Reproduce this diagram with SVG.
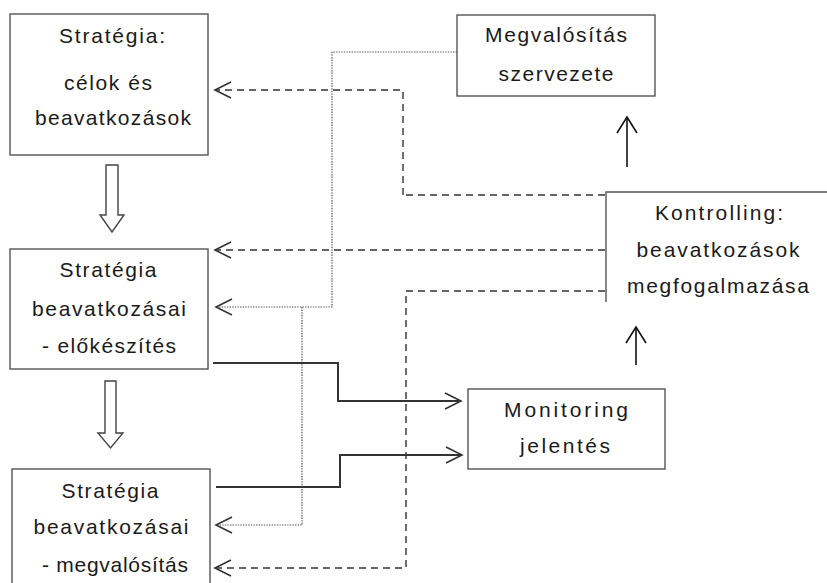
<svg xmlns="http://www.w3.org/2000/svg" width="827" height="583" viewBox="0 0 827 583">
<style>
.box{fill:#fff;stroke:#555;stroke-width:1.4}
.t{font-family:"Liberation Sans",Arial,sans-serif;font-size:21px;fill:#1a1a1a;text-anchor:middle}
.dash{fill:none;stroke:#333;stroke-width:1.4;stroke-dasharray:7 5}
.dot{fill:none;stroke:#555;stroke-width:1.2;stroke-dasharray:1.4 1.2}
.solid{fill:none;stroke:#333;stroke-width:2}
.up{fill:none;stroke:#111;stroke-width:1.6}
.blk{fill:#fff;stroke:#444;stroke-width:1.4}
</style>
<defs>
<marker id="ah" viewBox="-18 -10 20 20" refX="0" refY="0" markerWidth="20" markerHeight="20" markerUnits="userSpaceOnUse" orient="auto">
<path d="M -16 -8 L 0 0 L -16 8" fill="none" stroke="#333" stroke-width="1.6"/>
</marker>
<marker id="ahu" viewBox="-18 -11 20 22" refX="0" refY="0" markerWidth="20" markerHeight="22" markerUnits="userSpaceOnUse" orient="auto">
<path d="M -16 -10 L 0 0 L -16 10" fill="none" stroke="#111" stroke-width="1.6"/>
</marker>
</defs>

<g id="connectors">
<path class="dash" d="M 403 195 V 90 H 215" marker-end="url(#ah)"/>
<path class="dash" d="M 605 195 H 403"/>
<path class="dash" d="M 605 250 H 215" marker-end="url(#ah)"/>
<path class="dash" d="M 605 291 H 406 V 568 H 215" marker-end="url(#ah)"/>
<path class="dot" d="M 457 52 H 332 V 307 H 216" marker-end="url(#ah)"/>
<path class="dot" d="M 302 307 V 525 H 216" marker-end="url(#ah)"/>
<path class="solid" d="M 213 363 H 338 V 401 H 461" marker-end="url(#ah)"/>
<path class="solid" d="M 216 487 H 340 V 455 H 462" marker-end="url(#ah)"/>
<path class="up" d="M 627 167 V 117" marker-end="url(#ahu)"/>
<path class="up" d="M 636 365 V 327" marker-end="url(#ahu)"/>
<polygon class="blk" points="106,165 118,165 118,215 124,215 112,232 100,215 106,215"/>
<polygon class="blk" points="105,381 116,381 116,433 123,433 110.5,448 98,433 105,433"/>
</g>

<g id="strategia">
<rect class="box" x="10" y="14" width="198" height="141"/>
<text class="t" x="112" y="43" textLength="106" lengthAdjust="spacing">Stratégia:</text>
<text class="t" x="108" y="90" textLength="88" lengthAdjust="spacing">célok és</text>
<text class="t" x="113" y="125" textLength="156" lengthAdjust="spacing">beavatkozások</text>
</g>

<g id="megvalositas-szervezete">
<rect class="box" x="457" y="15" width="198" height="81"/>
<text class="t" x="556" y="42" textLength="142" lengthAdjust="spacing">Megvalósítás</text>
<text class="t" x="556" y="81" textLength="115" lengthAdjust="spacing">szervezete</text>
</g>

<g id="kontrolling">
<path d="M 606 302 V 192 H 830" fill="none" stroke="#555" stroke-width="1.4"/>
<text class="t" x="719" y="220" textLength="128" lengthAdjust="spacing">Kontrolling:</text>
<text class="t" x="718" y="257" textLength="163" lengthAdjust="spacing">beavatkozások</text>
<text class="t" x="718" y="293" textLength="182" lengthAdjust="spacing">megfogalmazása</text>
</g>

<g id="elokeszites">
<rect class="box" x="10" y="249" width="198" height="120"/>
<text class="t" x="108" y="277" textLength="97" lengthAdjust="spacing">Stratégia</text>
<text class="t" x="109" y="316" textLength="154" lengthAdjust="spacing">beavatkozásai</text>
<text class="t" x="109" y="353" textLength="134" lengthAdjust="spacing">- előkészítés</text>
</g>

<g id="monitoring">
<rect class="box" x="468" y="389" width="197" height="80"/>
<text class="t" x="566" y="417" textLength="124" lengthAdjust="spacing">Monitoring</text>
<text class="t" x="565" y="453" textLength="90" lengthAdjust="spacing">jelentés</text>
</g>

<g id="megvalositas">
<rect class="box" x="12" y="469" width="198" height="130"/>
<text class="t" x="110" y="498" textLength="97" lengthAdjust="spacing">Stratégia</text>
<text class="t" x="111" y="534" textLength="155" lengthAdjust="spacing">beavatkozásai</text>
<text class="t" x="115" y="572" textLength="146" lengthAdjust="spacing">- megvalósítás</text>
</g>
</svg>
